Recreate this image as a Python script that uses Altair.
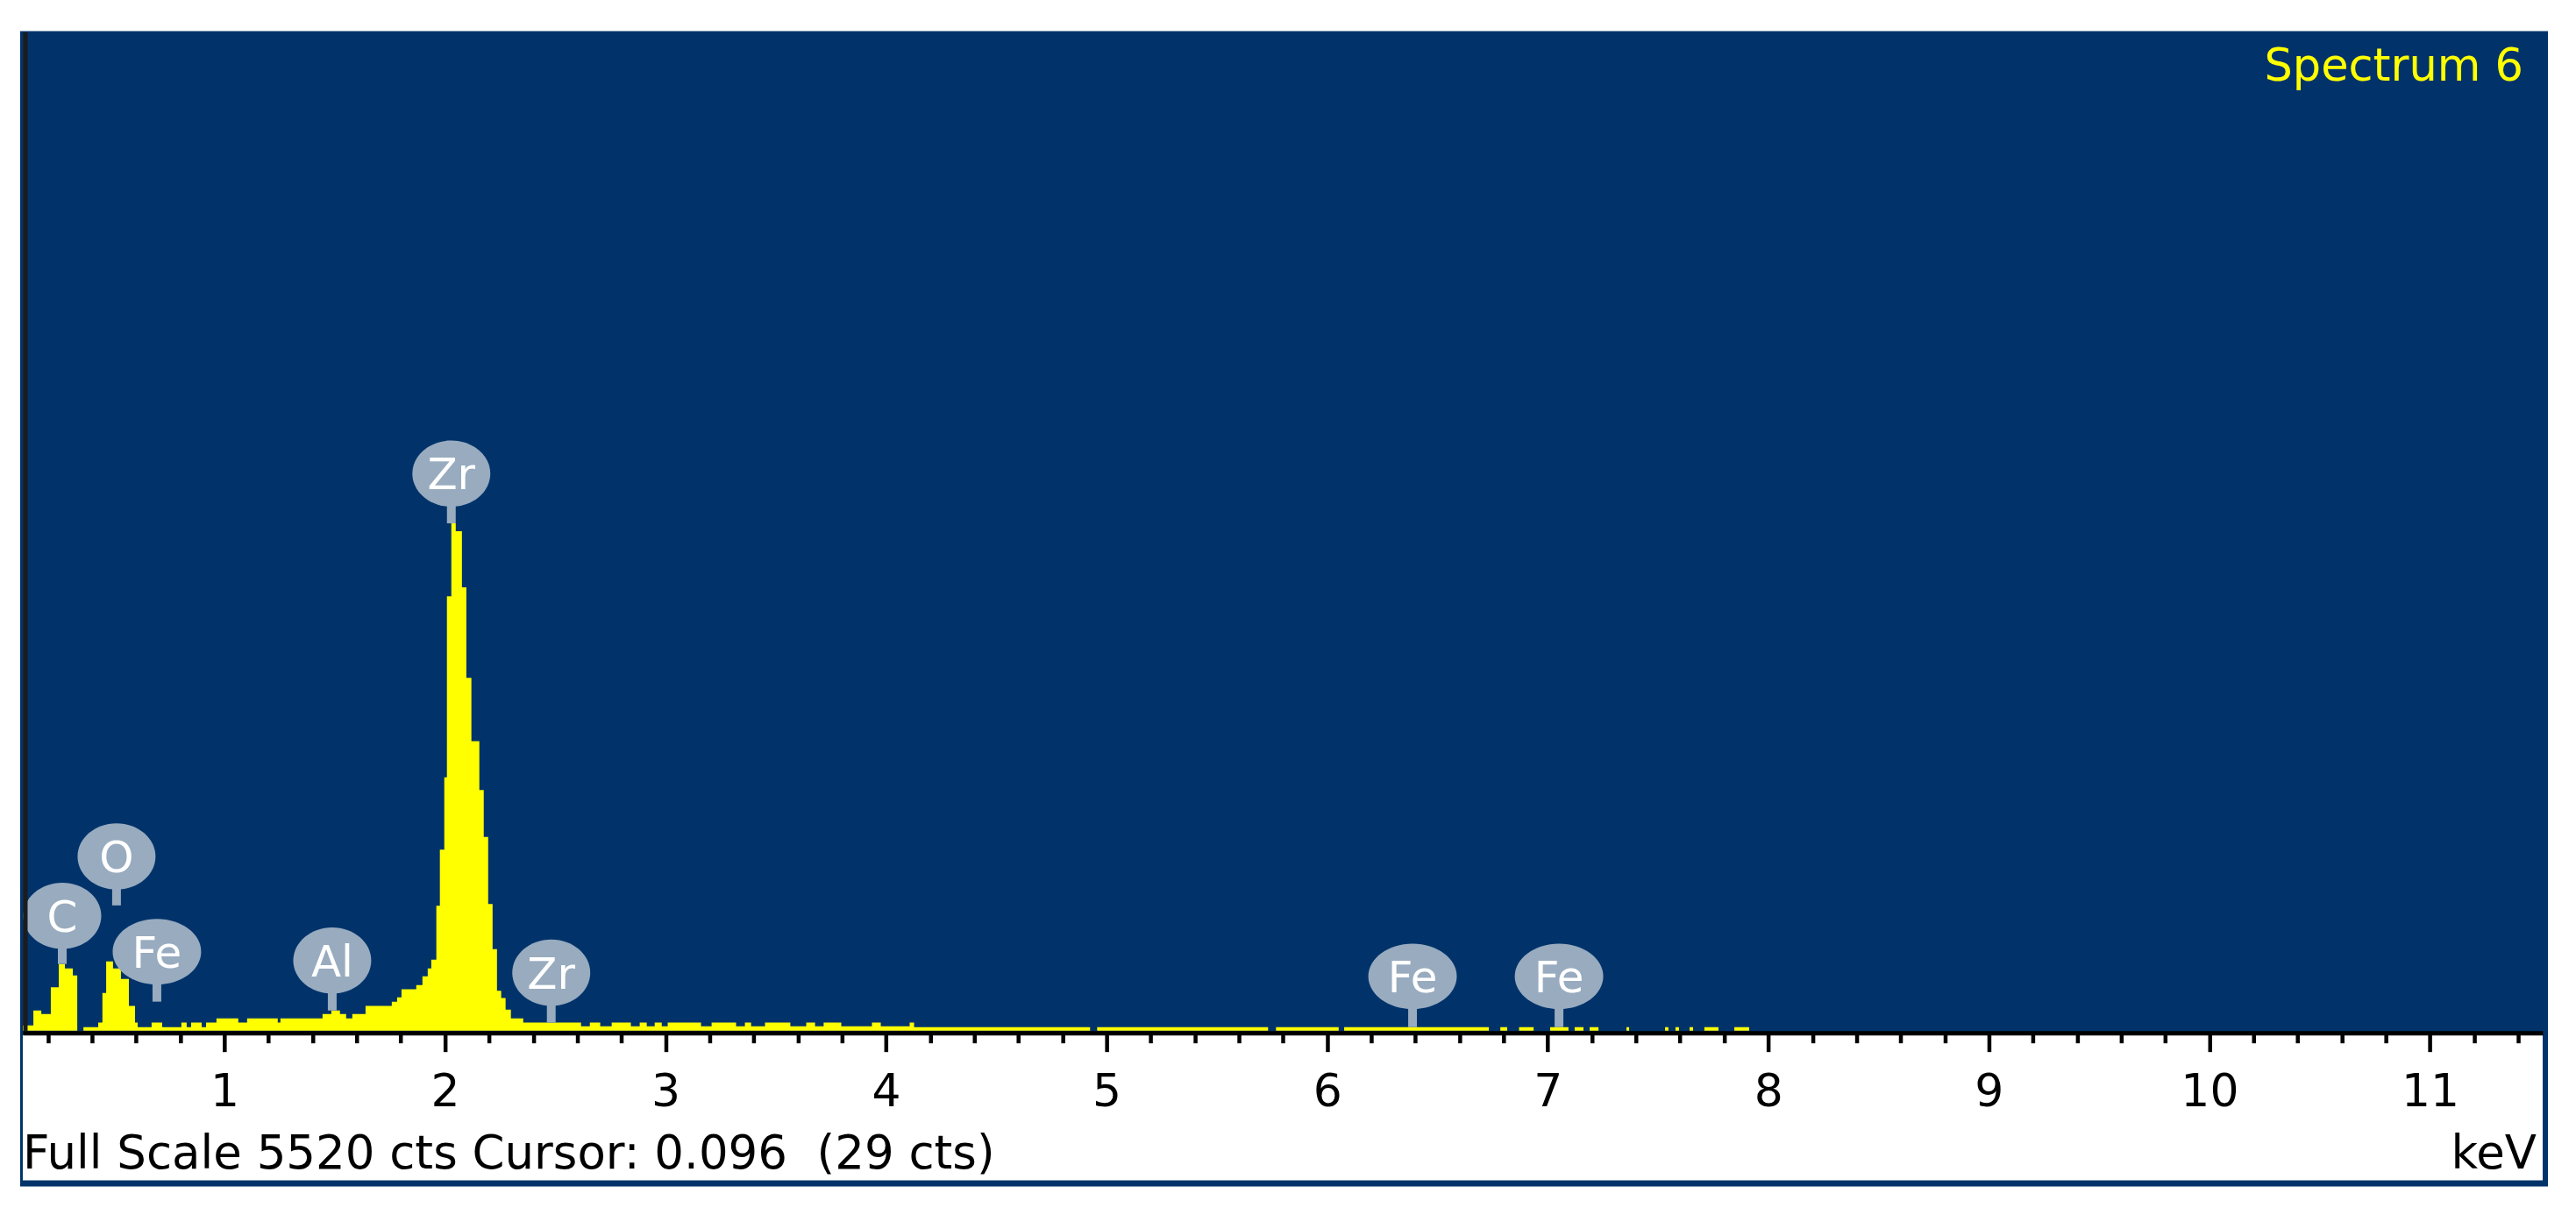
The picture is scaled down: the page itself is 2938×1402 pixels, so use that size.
import altair as alt
import pandas as pd

# ---- spectrum (step histogram) ----
seg_edges = [0.086, 0.134, 0.170, 0.213, 0.249, 0.277, 0.313, 0.333, 0.361, 0.428,
             0.447, 0.464, 0.495, 0.531, 0.567, 0.595, 0.607, 0.670, 0.718, 0.805,
             0.829, 0.849, 0.897, 0.917, 0.964, 1.063, 1.103, 1.242, 1.254, 1.445,
             1.485, 1.524, 1.552, 1.580, 1.640, 1.759, 1.783, 1.803, 1.870, 1.898,
             1.922, 1.938, 1.961, 1.977, 1.997, 2.009, 2.029, 2.049, 2.077, 2.097,
             2.120, 2.156, 2.176, 2.196, 2.216, 2.236, 2.255, 2.275, 2.299, 2.355,
             2.617, 2.657, 2.704, 2.756, 2.843, 2.883, 2.915, 2.951, 2.983, 3.010,
             3.161, 3.209, 3.320, 3.360, 3.388, 3.451, 3.566, 3.638, 3.678, 3.717,
             3.797, 3.936, 3.976, 4.107, 4.127, 4.925, 4.957, 5.732, 5.768, 6.052,
             6.077, 6.733, 6.785, 6.816, 6.870, 6.936, 7.011, 7.094, 7.122, 7.162,
             7.190, 7.230, 7.357, 7.369, 7.532, 7.547, 7.579, 7.595, 7.643, 7.659,
             7.710, 7.774, 7.846, 7.913, 11.511]
seg_counts = [29, 111, 92, 240, 368, 344, 305, 0, 19, 44,
              208, 383, 344, 286, 136, 44, 19, 44, 19, 44,
              19, 44, 19, 44, 68, 44, 68, 44, 68, 92,
              111, 92, 68, 92, 136, 160, 184, 228, 252, 300,
              344, 392, 690, 1000, 1400, 2400, 2804, 2760, 2450, 1950,
              1600, 1330, 1070, 700, 450, 220, 180, 116, 68, 44,
              24, 44, 24, 44, 24, 44, 24, 44, 24, 44,
              24, 44, 24, 44, 24, 44, 24, 44, 24, 44,
              24, 44, 24, 44, 19, 0, 19, 0, 19, 0,
              19, 0, 19, 0, 19, 0, 19, 0, 19, 0,
              19, 0, 19, 0, 19, 0, 19, 0, 19, 0,
              19, 0, 19, 0]

# ---- element markers ----
label_text = ["C", "O", "Fe", "Al", "Zr", "Zr", "Fe", "Fe"]
label_kev = [0.265, 0.511, 0.694, 1.489, 2.029, 2.482, 6.387, 7.051]
label_center = [634, 963, 436, 387, 3079, 320, 300, 300]
label_tip = [368, 692, 160, 111, 2804, 44, 19, 19]

# ---- axis ticks ----
tick_values = [round(0.2 * i, 1) for i in range(1, 58)]

title_text = "Spectrum 6"
footer_text = "Full Scale 5520 cts Cursor: 0.096\u00a0 (29 cts)"
unit_text = "keV"

W, H = 2876, 1140
NAVY = "#01336A"
BADGE = "#98ABBF"
YELLOW = "#FFFF00"
FONT = "DejaVu Sans"

spec_df = pd.DataFrame({
    "keV": seg_edges,
    "counts": seg_counts + [seg_counts[-1]],
})
lab_df = pd.DataFrame({
    "keV": label_kev, "label": label_text,
    "center": label_center, "tip": label_tip,
})
one = pd.DataFrame({"a": [0]})

x_scale = alt.Scale(domain=[0.086, 11.511], nice=False, zero=False)
y_scale = alt.Scale(domain=[0, 5520], nice=False, zero=True)
is_major = "abs(datum.value - round(datum.value)) < 0.001"

x_axis = alt.Axis(
    values=tick_values,
    labelExpr=f"{is_major} ? format(round(datum.value), 'd') : ''",
    tickSize={"condition": {"test": is_major, "value": 21.5}, "value": 11.5},
    tickWidth=4.5, tickColor="black",
    domainColor="black", domainWidth=5, offset=2.5,
    labelFont=FONT, labelFontSize=52, labelColor="black",
    labelBaseline="alphabetic", labelPadding=62,
    labelOverlap=False, labelFlush=False,
    grid=False, title="", zindex=1,
)
y_axis = alt.Axis(labels=False, ticks=False, grid=False, title="",
                  domainColor="#1c1c1c", domainWidth=5, offset=-2.5, zindex=1)

frame = alt.Chart(one).mark_rect(color=NAVY).encode(
    x=alt.value(-3), x2=alt.value(W + 6), y=alt.value(-1), y2=alt.value(1318))
strip = alt.Chart(one).mark_rect(color="white").encode(
    x=alt.value(0), x2=alt.value(W), y=alt.value(H + 5), y2=alt.value(1311))

spectrum = alt.Chart(spec_df).mark_area(
    interpolate="step-after", color=YELLOW, opacity=1).encode(
    x=alt.X("keV:Q", scale=x_scale, axis=x_axis),
    y=alt.Y("counts:Q", scale=y_scale, axis=y_axis),
)

stems = alt.Chart(lab_df).mark_rule(color=BADGE, strokeWidth=10).encode(
    x=alt.X("keV:Q", scale=x_scale, title=""),
    y=alt.Y("center:Q", scale=y_scale, title=""),
    y2="tip:Q",
)

shape_fe = "M -1 0 A 1 0.74 0 1 1 1 0 A 1 0.74 0 1 1 -1 0 Z"
shape_other = "M -1 0 A 1 0.85 0 1 1 1 0 A 1 0.85 0 1 1 -1 0 Z"
badges = alt.Chart(lab_df).mark_point(filled=True, fill=BADGE, opacity=1, strokeWidth=0).encode(
    x=alt.X("keV:Q", scale=x_scale, title=""),
    y=alt.Y("center:Q", scale=y_scale, title=""),
    shape=alt.condition(alt.datum.label == "Fe", alt.value(shape_fe), alt.value(shape_other)),
    size=alt.condition(alt.datum.label == "Fe", alt.value(10201), alt.value(7921)),
)
badge_text = alt.Chart(lab_df).mark_text(
    font=FONT, fontSize=50, color="white", align="center", baseline="middle", dy=3).encode(
    x=alt.X("keV:Q", scale=x_scale, title=""),
    y=alt.Y("center:Q", scale=y_scale, title=""),
    text="label:N",
)

title_mark = alt.Chart(one).mark_text(
    text=title_text, font=FONT, fontSize=51, color=YELLOW,
    align="right", baseline="alphabetic").encode(
    x=alt.value(W - 22), y=alt.value(56))
footer_mark = alt.Chart(one).mark_text(
    text=footer_text, font=FONT, fontSize=53, color="black",
    align="left", baseline="alphabetic").encode(
    x=alt.value(0), y=alt.value(1297))
unit_mark = alt.Chart(one).mark_text(
    text=unit_text, font=FONT, fontSize=53, color="black",
    align="right", baseline="alphabetic").encode(
    x=alt.value(W - 7), y=alt.value(1297))

chart = alt.layer(
    frame, strip, spectrum, stems, badges, badge_text,
    title_mark, footer_mark, unit_mark,
).properties(
    width=W, height=H, autosize="none",
    padding={"left": 18, "top": 28, "right": 30, "bottom": 220},
    background="white",
).configure_view(strokeWidth=0)

chart.save("out.html", embed_options={"renderer": "svg", "actions": False})
